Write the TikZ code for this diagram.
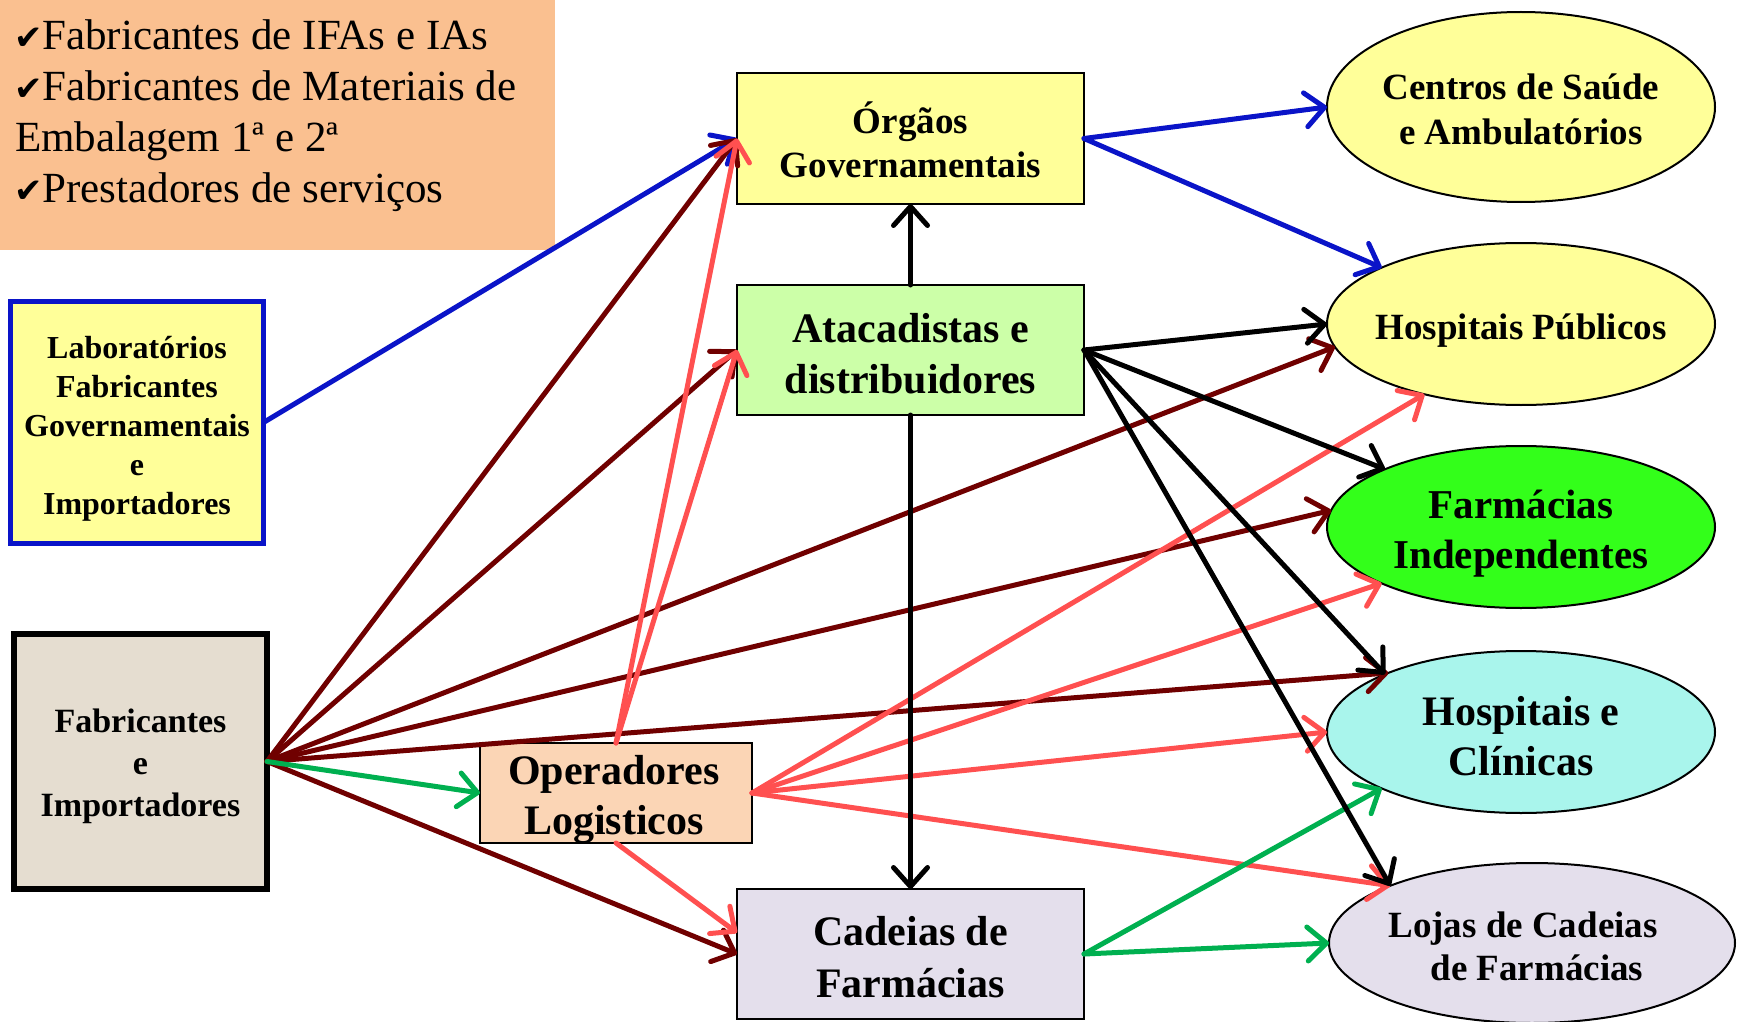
\documentclass[tikz,border=0pt]{standalone}
\usepackage{fontspec}
\setmainfont{Liberation Serif}
\newfontfamily\chkfont{DejaVu Sans}
\usetikzlibrary{arrows.meta,shapes.geometric}
\definecolor{orangebg}{HTML}{FAC090}
\definecolor{lyellow}{HTML}{FFFF99}
\definecolor{labblue}{RGB}{10,20,200}
\definecolor{fabfill}{HTML}{E5DDD0}
\definecolor{atafill}{HTML}{CCFFA8}
\definecolor{opefill}{HTML}{FBD5B5}
\definecolor{lilac}{HTML}{E4DFEC}
\definecolor{brightgreen}{HTML}{33FF1A}
\definecolor{cyanfill}{HTML}{A9F5EC}
\definecolor{bluec}{RGB}{10,20,200}
\definecolor{darkred}{HTML}{700000}
\definecolor{lightred}{HTML}{FF5050}
\definecolor{greenc}{HTML}{00B050}
\begin{document}
\begin{tikzpicture}[x=1pt,y=-1pt,
  box/.style={rectangle,draw=black,line width=2pt,inner sep=0pt,outer sep=0pt},
  ell/.style={ellipse,draw=black,line width=2pt,inner sep=0pt,outer sep=0pt,minimum width=388pt,minimum height=162pt},
  arr/.style={line width=5pt,line cap=round,-{Straight Barb[length=19pt,width=34pt,round]}},
  suptxt/.style={inner sep=0pt,outer sep=0pt,anchor=base west,font=\fontsize{43}{51}\selectfont},
  txt/.style={align=center,inner sep=0pt}]

\useasboundingbox (0,0) rectangle (1741,1022);

% supplier box
\node[fill=orangebg,minimum width=555pt,minimum height=250pt,anchor=north west,inner sep=0pt,outer sep=0pt] (supp) at (0,0) {};
\node[suptxt] (s1) at (14,50) {{\chkfont\fontsize{34}{34}\selectfont ✔}Fabricantes de IFAs e IAs};
\node[suptxt] (s2) at (14,101) {{\chkfont\fontsize{34}{34}\selectfont ✔}Fabricantes de Materiais de};
\node[suptxt] (s3) at (15,152) {Embalagem 1ª e 2ª};
\node[suptxt] (s4) at (14,203) {{\chkfont\fontsize{34}{34}\selectfont ✔}Prestadores de serviços};

% left boxes
\node[box,draw=labblue,line width=4.5pt,fill=lyellow,minimum width=253pt,minimum height=242pt,
      label={[txt,yshift=-6pt,font=\bfseries\fontsize{32}{39}\selectfont]center:{Laboratórios\\Fabricantes\\Governamentais\\e\\Importadores}}] (lab) at (137,422.5) {};
\node[box,line width=5.5pt,fill=fabfill,minimum width=253pt,minimum height=255pt,
      label={[txt,yshift=-4.5pt,font=\bfseries\fontsize{34}{42}\selectfont]center:{Fabricantes\\e\\Importadores}}] (fab) at (140.5,761.5) {};

% middle boxes
\node[box,fill=lyellow,minimum width=347pt,minimum height=131pt,
      label={[txt,yshift=-1.5pt,font=\bfseries\fontsize{37}{44}\selectfont]center:{Órgãos\\Governamentais}}] (org) at (910.5,138.5) {};
\node[box,fill=atafill,minimum width=347pt,minimum height=130pt,
      label={[txt,yshift=-3.5pt,font=\bfseries\fontsize{42}{51}\selectfont]center:{Atacadistas e\\distribuidores}}] (ata) at (910.5,350) {};
\node[box,fill=opefill,minimum width=272pt,minimum height=100pt,
      label={[txt,yshift=-7pt,xshift=-2pt,font=\bfseries\fontsize{42}{50}\selectfont]center:{Operadores\\Logisticos}}] (ope) at (616,793) {};
\node[box,fill=lilac,minimum width=347pt,minimum height=130pt,
      label={[txt,yshift=-3pt,font=\bfseries\fontsize{42}{52}\selectfont]center:{Cadeias de\\Farmácias}}] (cad) at (910.5,954) {};

% right ellipses
\node[ell,fill=lyellow,minimum height=190pt,
      label={[txt,yshift=-2pt,font=\bfseries\fontsize{37}{45}\selectfont]center:{Centros de Saúde\\e Ambulatórios}}] (cen) at (1521,107) {};
\node[ell,fill=lyellow,
      label={[txt,yshift=-7pt,font=\bfseries\fontsize{37}{45}\selectfont]center:{Hospitais Públicos}}] (hp) at (1521,324) {};
\node[ell,fill=brightgreen,
      label={[txt,yshift=-7pt,font=\bfseries\fontsize{41}{50}\selectfont]center:{Farmácias\\Independentes}}] (farm) at (1521,527) {};
\node[ell,fill=cyanfill,
      label={[txt,yshift=-4pt,font=\bfseries\fontsize{42}{50}\selectfont]center:{Hospitais e\\Clínicas}}] (hec) at (1521,732) {};
\node[ell,fill=lilac,minimum width=406pt,minimum height=160pt,
      label={[txt,xshift=-9pt,yshift=-3pt,font=\bfseries\fontsize{37}{43}\selectfont]center:{Lojas de Cadeias\\\hspace*{28pt}de Farmácias}}] (loj) at (1532,943) {};

% blue
\draw[arr,bluec] (lab.east) -- (org.west);
\draw[arr,bluec] (org.east) -- (cen.west);
\draw[arr,bluec] (org.east) -- (hp.158);

% dark red
\draw[arr,darkred] (fab.east) -- (org.west);
\draw[arr,darkred] (fab.east) -- (ata.west);
\draw[arr,darkred] (fab.east) -- (hp.187);
\draw[arr,darkred] (fab.east) -- (farm.175);
\draw[arr,darkred] (fab.east) -- (hec.156);
\draw[arr,darkred] (fab.east) -- (cad.west);

% light red
\draw[arr,lightred] (ope.north) -- (org.west);
\draw[arr,lightred] (ope.north) -- (ata.west);
\draw[arr,lightred] (ope.east) -- (hp.216);
\draw[arr,lightred] (ope.east) -- (farm.202);
\draw[arr,lightred] (ope.east) -- (hec.west);
\draw[arr,lightred] (ope.east) -- (loj.158);
\draw[arr,lightred] (ope.south) -- (cad.173);

% green
\draw[arr,greenc] (fab.east) -- (ope.west);
\draw[arr,greenc] (cad.east) -- (hec.202);
\draw[arr,greenc] (cad.east) -- (loj.west);

% black
\draw[arr] (ata.north) -- (org.south);
\draw[arr] (ata.south) -- (cad.north);
\draw[arr] (ata.east) -- (hp.west);
\draw[arr] (ata.east) -- (farm.157);
\draw[arr] (ata.east) -- (hec.157);
\draw[arr] (ata.east) -- (loj.158);
\end{tikzpicture}
\end{document}
